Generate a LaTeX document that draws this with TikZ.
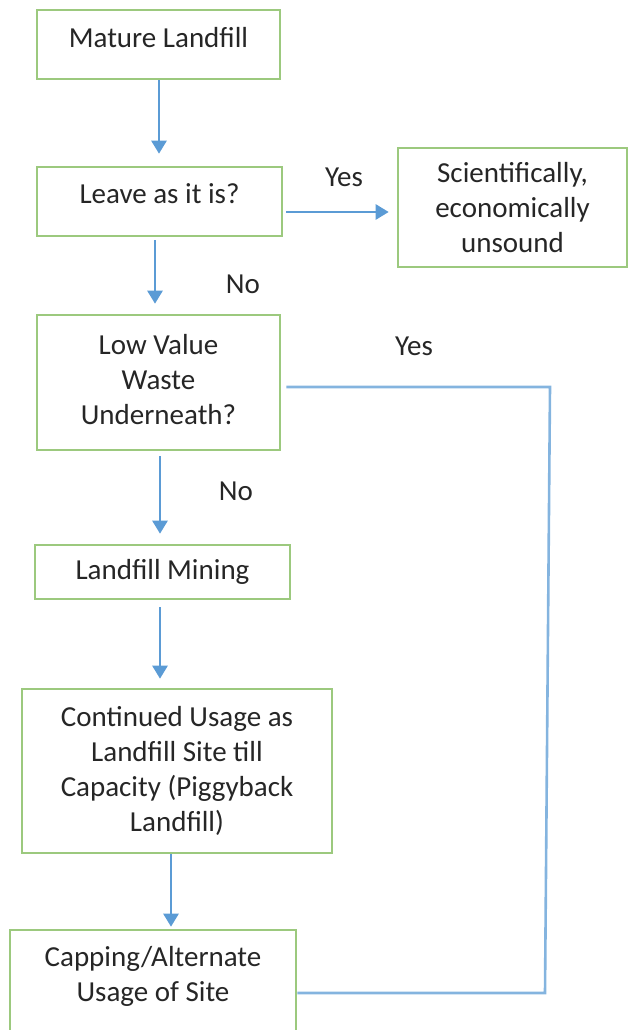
\documentclass[tikz,border=0pt]{standalone}
\usepackage{fontspec}
\setmainfont{Carlito}
\usetikzlibrary{arrows.meta}

\definecolor{boxgreen}{HTML}{9CC97E}
\definecolor{flowblue}{HTML}{5B9BD5}
\definecolor{txtgray}{HTML}{262626}

\begin{document}
\begin{tikzpicture}[x=1pt,y=-1pt,
  every node/.style={text=txtgray,font=\fontsize{29}{35}\selectfont},
  stagebox/.style={draw=boxgreen,line width=2.6pt,rectangle,align=center,inner sep=0pt},
  flow/.style={draw=flowblue,line width=2.6pt,-{Triangle[width=15pt,length=13pt]}},
  loopline/.style={draw=flowblue!75,line width=2.6pt}]
\useasboundingbox (0,0) rectangle (629,1030);
\clip (0,0) rectangle (629,1030);
% boxes
\node [stagebox,minimum width=243,minimum height=69,text depth=14pt] (mature) at (158.5,44.5) {Mature Landfill};
\node [stagebox,minimum width=245,minimum height=69,text depth=16pt] (leave) at (159.5,201.5) {Leave as it is?};
\node [stagebox,minimum width=229,minimum height=119] (sci) at (512.5,207.5) {Scientifically,\\economically\\unsound};
\node [stagebox,minimum width=243,minimum height=135,text depth=7pt] (low) at (158.5,382.5) {Low Value\\Waste\\Underneath?};
\node [stagebox,minimum width=255,minimum height=54] (mining) at (162.5,572) {Landfill Mining};
\node [stagebox,minimum width=310,minimum height=164] (cont) at (177,771) {Continued Usage as\\Landfill Site till\\Capacity (Piggyback\\Landfill)};
\node [stagebox,minimum width=286,minimum height=110] (cap) at (153,985) {};
\node [align=center] (captxt) at (153,976) {Capping/Alternate\\Usage of Site};
% labels
\node (yes1) at (344,177) {Yes};
\node (no1) at (243,284) {No};
\node (yes2) at (414,346) {Yes};
\node (no2) at (236,491) {No};
% arrows down the main line
\coordinate (a1) at ([xshift=0.5pt]mature.south);
\draw [flow,shorten >=12pt] (a1) -- (a1 |- leave.north);
\coordinate (a2) at ([xshift=-4.5pt]leave.south);
\draw [flow,shorten <=3pt,shorten >=10pt] (a2) -- (a2 |- low.north);
\coordinate (a3) at ([xshift=1.5pt]low.south);
\draw [flow,shorten <=5pt,shorten >=10pt] (a3) -- (a3 |- mining.north);
\coordinate (a4) at ([xshift=-2.5pt]mining.south);
\draw [flow,shorten <=7pt,shorten >=9pt] (a4) -- (a4 |- cont.north);
\coordinate (a5) at ([xshift=-6pt]cont.south);
\draw [flow,shorten >=2pt] (a5) -- (a5 |- cap.north);
% yes branch to the right
\coordinate (yesA) at ([yshift=-10.5pt]leave.east);
\draw [flow,shorten <=3pt,shorten >=8pt] (yesA) -- (yesA -| sci.west);
% yes loop back to capping
\coordinate (loopA) at ([yshift=-4.5pt]low.east);
\coordinate (loopB) at (550,387);
\coordinate (loopC) at (545,993);
\draw [loopline,shorten <=5pt] (loopA) -- (loopB) -- (loopC) -- (loopC -| cap.east);
\end{tikzpicture}
\end{document}
